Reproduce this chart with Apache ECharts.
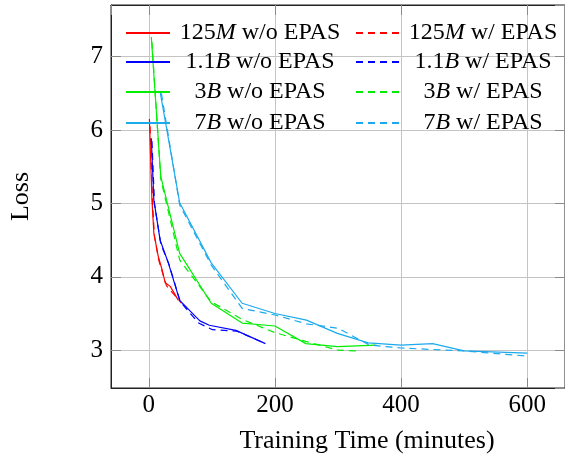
<!DOCTYPE html>
<html><head><meta charset="utf-8">
<script src="https://cdn.jsdelivr.net/npm/echarts@6/dist/echarts.min.js"></script>
<style>html,body{margin:0;padding:0;background:#fff}#c{width:565px;height:459px}</style>
</head><body><div id="c"></div>
<script>
// ---- data (training time in minutes, loss) ----
const sizeNum  = ['125', '1.1', '3', '7'];
const sizeUnit = ['M', 'B', 'B', 'B'];
const colors   = ['#ff0000', '#0000ff', '#00ee00', '#1aaaee'];

const t125_wo = [1, 5, 8, 15, 21, 26, 34, 47];
const l125_wo = [6.15, 5.05, 4.6, 4.28, 4.1, 3.92, 3.87, 3.68];
const t125_w  = [2, 6, 9, 16, 22, 28, 36, 52];
const l125_w  = [6.05, 5.0, 4.55, 4.22, 4.05, 3.88, 3.8, 3.64];

const t11_wo = [4, 8, 18, 31, 49, 81, 96, 138, 185];
const l11_wo = [5.89, 5.05, 4.5, 4.19, 3.68, 3.4, 3.34, 3.27, 3.09];
const t11_w  = [5, 9, 19, 32, 50, 79, 101, 140, 185];
const l11_w  = [5.85, 5.0, 4.45, 4.17, 3.66, 3.37, 3.28, 3.26, 3.09];

const t3_wo = [4, 19, 49, 99, 148, 200, 249, 299, 361];
const l3_wo = [7.27, 5.37, 4.32, 3.64, 3.37, 3.33, 3.09, 3.05, 3.07];
const t3_w  = [5, 19, 49, 99, 148, 200, 249, 300, 330];
const l3_w  = [7.2, 5.33, 4.23, 3.66, 3.42, 3.24, 3.12, 3.0, 2.99];

const t7_wo = [18, 49, 99, 148, 200, 250, 299, 348, 400, 450, 500, 600];
const l7_wo = [6.52, 5.01, 4.19, 3.64, 3.5, 3.41, 3.23, 3.1, 3.07, 3.09, 2.99, 2.96];
const t7_w  = [20, 49, 99, 148, 200, 250, 300, 350, 400, 450, 500, 600];
const l7_w  = [6.5, 4.98, 4.16, 3.57, 3.48, 3.36, 3.3, 3.07, 3.03, 3.01, 2.99, 2.92];

const xTitle = 'Training Time (minutes)';
const yTitle = 'Loss';

// ---- build ----
const runsWo = [[t125_wo, l125_wo], [t11_wo, l11_wo], [t3_wo, l3_wo], [t7_wo, l7_wo]];
const runsW  = [[t125_w, l125_w], [t11_w, l11_w], [t3_w, l3_w], [t7_w, l7_w]];
const zip = (a, b) => a.map((v, i) => [v, b[i]]);
const FONT = 'Liberation Serif';
const LFS = 24;

const meas = document.createElement('canvas').getContext('2d');
function textW(num, unit, rest) {
  meas.font = LFS + 'px "' + FONT + '"';
  let w = meas.measureText(num).width + meas.measureText(rest).width;
  meas.font = 'italic ' + LFS + 'px "' + FONT + '"';
  return w + meas.measureText(unit).width;
}

const series = [];
const legends = [];
const colX = [125, 355];
const colCenter = [259, 482];
const rowY = [34, 63, 93, 124];
const ICON_W = 44;
for (let k = 0; k < 4; k++) {
  for (let c = 0; c < 2; c++) {
    const rest = c === 0 ? ' w/o EPAS' : ' w/ EPAS';
    const name = sizeNum[k] + sizeUnit[k] + rest;
    const run = c === 0 ? runsWo[k] : runsW[k];
    series.push({
      name: name, type: 'line', symbol: 'none', animation: false,
      data: zip(run[0], run[1]),
      lineStyle: { color: colors[k], width: 1.2, type: c === 0 ? 'solid' : [7, 5] },
      itemStyle: { color: colors[k] }
    });
    const w = textW(sizeNum[k], sizeUnit[k], rest);
    const pad = Math.max(0, colCenter[c] - w / 2 - (colX[c] + ICON_W) - 5);
    legends.push({
      left: colX[c], top: rowY[k] - 13, orient: 'horizontal', padding: 0,
      data: [name], itemWidth: ICON_W, itemHeight: 2, selectedMode: false,
      itemStyle: { opacity: 0 },
      formatter: function () {
        return '{p|}{n|' + sizeNum[k] + '}{i|' + sizeUnit[k] + '}{n|' + rest + '}';
      },
      textStyle: {
        rich: {
          p: { width: pad, lineHeight: 26 },
          n: { fontFamily: FONT, fontSize: LFS, lineHeight: 26, color: '#000' },
          i: { fontFamily: FONT, fontStyle: 'italic', fontSize: LFS, lineHeight: 26, color: '#000' }
        }
      }
    });
  }
}

const XMIN = -59.9, XMAX = 659.9, YMIN = 2.485, YMAX = 7.705;
const tickStyle = { show: true, inside: true, length: 10, lineStyle: { color: '#8a8a8a' } };
const boxLine = { show: true, onZero: false, lineStyle: { color: '#222', width: 1 } };
const chart = echarts.init(document.getElementById('c'), null, { renderer: 'canvas' });
chart.setOption({
  animation: false,
  backgroundColor: '#fff',
  grid: { left: 110, top: 5, right: -7, bottom: 71, show: true, borderColor: '#222', borderWidth: 1, backgroundColor: 'transparent' },
  legend: legends,
  xAxis: [{
    type: 'value', min: XMIN, max: XMAX, splitNumber: 4, minInterval: 200, maxInterval: 200,
    axisLine: boxLine,
    axisTick: tickStyle,
    axisLabel: { fontFamily: FONT, fontSize: 25, color: '#000', margin: 5, showMinLabel: false, showMaxLabel: false },
    splitLine: { show: true, lineStyle: { color: '#c4c4c4', width: 1 } },
    name: xTitle, nameLocation: 'middle', nameGap: 40,
    nameTextStyle: { fontFamily: FONT, fontSize: 26, color: '#000', padding: [0, 0, 0, 58] }
  }, {
    type: 'value', position: 'top', min: XMIN, max: XMAX, splitNumber: 4, minInterval: 200, maxInterval: 200,
    axisLine: boxLine, axisTick: tickStyle, axisLabel: { show: false }, splitLine: { show: false }
  }],
  yAxis: [{
    type: 'value', min: YMIN, max: YMAX, splitNumber: 5, minInterval: 1, maxInterval: 1,
    axisLine: boxLine,
    axisTick: tickStyle,
    axisLabel: { fontFamily: FONT, fontSize: 25, color: '#000', margin: 8, showMinLabel: false, showMaxLabel: false },
    splitLine: { show: true, lineStyle: { color: '#c4c4c4', width: 1 } },
    name: yTitle, nameLocation: 'middle', nameGap: 77,
    nameTextStyle: { fontFamily: FONT, fontSize: 26, color: '#000' }
  }, {
    type: 'value', position: 'right', min: YMIN, max: YMAX, splitNumber: 5, minInterval: 1, maxInterval: 1,
    axisLine: boxLine, axisTick: tickStyle, axisLabel: { show: false }, splitLine: { show: false }
  }],
  series: series
});
</script></body></html>
